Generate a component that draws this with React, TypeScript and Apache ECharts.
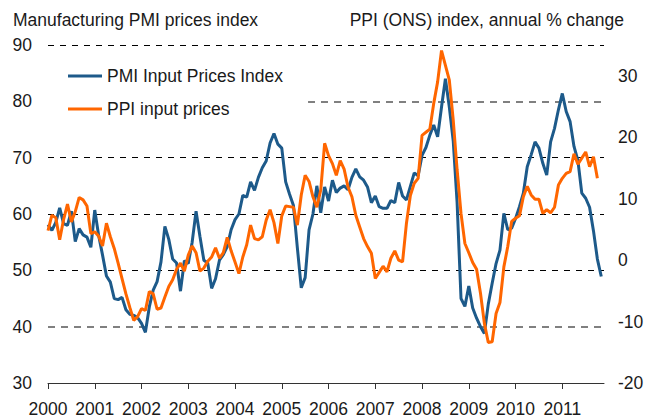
import React, { useEffect, useRef } from "react";
import * as echarts from "echarts";

const startYear = 2000;
const yearLabels = ["2000", "2001", "2002", "2003", "2004", "2005", "2006", "2007", "2008", "2009", "2010", "2011"];

// Manufacturing PMI input prices index, monthly from Jan 2000
const pmiInput = [
  58.1, 57.1, 58.5, 61.1, 58.3, 58.0, 60.5, 55.1, 57.4, 56.3, 55.9, 54.1,
  60.7, 56.2, 52.7, 49.0, 47.9, 45.0, 44.8, 45.2, 43.0, 42.2, 42.0, 41.6,
  40.6, 39.0, 43.5, 46.5, 48.0, 51.5, 57.8, 55.5, 52.0, 51.3, 46.3, 51.7,
  51.2, 55.0, 60.5, 56.0, 51.8, 51.3, 46.8, 48.5, 51.8, 52.8, 54.2, 57.2,
  59.0, 60.0, 63.3, 63.0, 65.7, 64.2, 66.5, 68.2, 69.4, 72.6, 74.3, 72.4,
  71.7, 65.7, 63.5, 61.5, 54.0, 46.9, 48.7, 57.2, 60.0, 65.0, 60.2, 64.8,
  62.3, 66.0, 63.8, 64.6, 65.0, 64.3, 66.5, 68.0, 66.6, 66.0, 64.8, 62.0,
  63.2, 61.3, 61.0, 61.0, 62.4, 62.0, 65.6, 63.2, 62.5, 64.9, 67.3, 66.8,
  70.4, 71.8, 74.0, 75.8, 73.7, 79.0, 84.0, 79.0, 73.0, 62.0, 45.0, 43.6,
  47.2, 43.3, 41.5, 40.0, 38.8, 44.0, 47.7, 51.2, 53.6, 60.1, 57.2, 57.5,
  59.2, 61.3, 63.7, 68.4, 70.5, 72.8, 71.7, 69.0, 66.9, 72.8, 75.2, 78.5,
  81.4, 78.2, 76.4, 72.0, 69.5, 63.7, 62.8, 61.2, 57.0, 52.0, 48.9
];

// PPI (ONS) input prices, annual % change, monthly from Jan 2000
const ppiInput = [
  4.8, 7.3, 6.9, 3.3, 6.6, 9.1, 6.2, 7.9, 10.2, 9.8, 8.8, 4.3,
  4.6, 3.9, 2.3, 6.0, 3.8, 1.9, -0.5, -3.0, -5.5, -7.7, -9.8, -9.2,
  -7.9, -8.2, -5.1, -5.5, -8.0, -7.8, -6.0, -4.3, -3.2, -1.5, -0.5, -1.8,
  0.8, 2.3, 1.2, -1.8, -1.3, -0.2, 0.5, 2.0, 0.3, 1.2, 3.7, 1.5,
  -0.3, -2.2, 0.5, 2.5, 5.7, 3.5, 3.3, 3.8, 6.5, 8.2, 6.1, 2.7,
  7.2, 8.8, 8.7, 8.6, 5.7, 10.6, 13.8, 12.8, 10.3, 8.6, 11.4, 19.0,
  17.0, 15.7, 13.8, 16.2, 14.8, 11.9, 10.3, 7.3, 5.4, 3.5, 2.2, 1.1,
  -3.0, -2.0, -1.0, -1.9, 0.3, 1.5, 0.0, -0.3, 6.0, 10.5, 12.5, 13.3,
  20.3, 20.8, 21.3, 25.5, 29.0, 34.1, 31.7, 29.3, 22.8, 14.7, 7.6, 2.7,
  1.2, -0.4, -1.5, -5.4, -10.3, -13.4, -13.3, -8.7, -6.9, -1.1, 2.2, 6.3,
  6.8, 7.2, 10.3, 12.0, 10.6, 9.9, 9.9, 7.6, 8.2, 7.7, 8.6, 12.2,
  13.3, 14.1, 14.4, 17.3, 15.6, 16.6, 17.6, 15.2, 16.8, 13.3
];

const leftTicks = [30, 40, 50, 60, 70, 80, 90];
const rightTicks = [-20, -10, 0, 10, 20, 30];

const FONT = "'Liberation Sans', Arial, sans-serif";
const FS = 17.5;
const TEXT = "#1a1a1a";
const BLUE = "#1d5a8a";
const ORANGE = "#ff6600";

export default function App() {
  const ref = useRef<HTMLDivElement>(null);

  useEffect(() => {
    if (!ref.current) return;
    const chart = echarts.init(ref.current, undefined, { renderer: "svg" });
    const yearTicks = yearLabels.map((_, i) => i * 12);
    const leftSplitColors = leftTicks.map((t) => (t === 30 || t === 40 || t === 80 ? "rgba(0,0,0,0)" : "#000"));
    const graySplitColors = leftTicks.map((t) => (t === 40 || t === 80 ? "#808080" : "rgba(0,0,0,0)"));

    chart.setOption({
      animation: false,
      backgroundColor: "#fff",
      textStyle: { fontFamily: FONT },
      title: [
        {
          text: "Manufacturing PMI prices index",
          left: 13,
          top: 11,
          padding: 0,
          textStyle: { fontFamily: FONT, fontSize: FS, fontWeight: "normal", color: TEXT },
        },
        {
          text: "PPI (ONS) index, annual % change",
          right: 34,
          top: 11,
          padding: 0,
          textStyle: { fontFamily: FONT, fontSize: FS, fontWeight: "normal", color: TEXT },
        },
      ],
      legend: {
        orient: "vertical",
        left: 48,
        top: 59,
        padding: [8, 25, 8, 20],
        backgroundColor: "#fff",
        icon: "rect",
        itemWidth: 34,
        itemHeight: 3,
        itemGap: 15,
        textStyle: { fontFamily: FONT, fontSize: FS, color: TEXT, lineHeight: 17 },
        data: ["PMI Input Prices Index", "PPI input prices"],
      },
      grid: { left: 48, right: 54, top: 45, bottom: 37, containLabel: false },
      xAxis: {
        type: "value",
        min: 0,
        max: 142.7,
        interval: 12,
        axisLine: { show: true, onZero: false, lineStyle: { color: "#333", width: 1 } },
        axisTick: { show: true, length: 6, lineStyle: { color: "#333" }, customValues: yearTicks },
        axisLabel: {
          customValues: yearTicks,
          margin: 17,
          fontSize: FS,
          color: TEXT,
          fontFamily: FONT,
          formatter: (v: number) => (v % 12 === 0 ? String(startYear + v / 12) : ""),
        },
        splitLine: { show: false },
      },
      yAxis: [
        {
          type: "value",
          position: "left",
          min: 30,
          max: 90,
          interval: 10,
          axisLine: { show: false },
          axisTick: { show: false },
          axisLabel: { margin: 16, fontSize: FS, color: TEXT, fontFamily: FONT },
          splitLine: { show: true, lineStyle: { color: leftSplitColors, type: [6, 6], width: 1.1 } },
        },
        {
          type: "value",
          position: "right",
          min: -20,
          max: 35,
          interval: 10,
          axisLine: { show: false },
          axisTick: { show: false },
          axisLabel: {
            margin: 14,
            fontSize: FS,
            color: TEXT,
            fontFamily: FONT,
            formatter: (v: number) => (rightTicks.indexOf(v) >= 0 ? String(v) : ""),
          },
          splitLine: { show: false },
        },
        {
          type: "value",
          position: "left",
          min: 30,
          max: 90,
          interval: 10,
          axisLine: { show: false },
          axisTick: { show: false },
          axisLabel: { show: false },
          splitLine: { show: true, lineStyle: { color: graySplitColors, type: [7, 6], width: 2 } },
        },
      ],
      series: [
        {
          name: "PMI Input Prices Index",
          type: "line",
          yAxisIndex: 0,
          symbol: "none",
          lineStyle: { color: BLUE, width: 3 },
          itemStyle: { color: BLUE },
          data: pmiInput.map((v, i) => [i, v]),
        },
        {
          name: "PPI input prices",
          type: "line",
          yAxisIndex: 1,
          symbol: "none",
          lineStyle: { color: ORANGE, width: 3 },
          itemStyle: { color: ORANGE },
          data: ppiInput.map((v, i) => [i, v]),
        },
      ],
    });
    return () => chart.dispose();
  }, []);

  return <div ref={ref} style={{ position: "fixed", left: 0, top: 0, width: 658, height: 420 }} />;
}
